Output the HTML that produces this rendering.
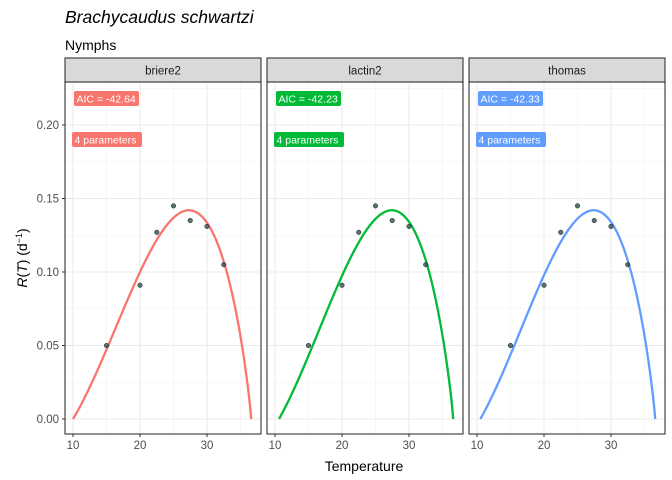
<!DOCTYPE html><html><head><meta charset="utf-8"><style>body{margin:0;background:#fff}svg{display:block}text{font-family:"Liberation Sans",sans-serif}</style></head><body>
<svg id="s" width="672" height="480" xmlns="http://www.w3.org/2000/svg">
<text x="65" y="23" font-size="17.5" font-style="italic" fill="#000">Brachycaudus schwartzi</text>
<text x="65" y="50" font-size="14" fill="#000">Nymphs</text>
<text x="364" y="471" font-size="14" text-anchor="middle" fill="#000">Temperature</text>
<text transform="translate(27,258) rotate(-90)" font-size="14" text-anchor="middle" fill="#000"><tspan font-style="italic">R</tspan>(<tspan font-style="italic">T</tspan>) (d<tspan font-size="9" dy="-5">−1</tspan><tspan dy="5">)</tspan></text>
<g id="g"></g>
</svg>
<script>
var g=document.getElementById('g'),h='';
var panels=[{x0:65,name:'briere2',c:'#F8766D',t0:10,aic:'-42.64'},{x0:267,name:'lactin2',c:'#00BA38',t0:10.6,aic:'-42.23'},{x0:469,name:'thomas',c:'#619CFF',t0:10.5,aic:'-42.33'}];
var W=196,pT=82,bot=434;
function Y(v){return 419-v*1470;}
var pts=[[15,0.05],[20,0.091],[22.5,0.127],[25,0.145],[27.5,0.135],[30,0.131],[32.5,0.105]];
panels.forEach(function(p,i){
 function X(t){return p.x0+8+(t-10)*6.7;}
 h+='<rect x="'+p.x0+'" y="'+pT+'" width="'+W+'" height="'+(bot-pT)+'" fill="#fff"/>';
 [0.025,0.075,0.125,0.175,0.225].forEach(function(v){h+='<line x1="'+p.x0+'" x2="'+(p.x0+W)+'" y1="'+Y(v)+'" y2="'+Y(v)+'" stroke="#f2f2f2" stroke-width="0.6"/>';});
 [15,25,35].forEach(function(v){h+='<line y1="'+pT+'" y2="'+bot+'" x1="'+X(v)+'" x2="'+X(v)+'" stroke="#f2f2f2" stroke-width="0.6"/>';});
 [0,0.05,0.1,0.15,0.2].forEach(function(v){h+='<line x1="'+p.x0+'" x2="'+(p.x0+W)+'" y1="'+Y(v)+'" y2="'+Y(v)+'" stroke="#ebebeb" stroke-width="1.1"/>';});
 [10,20,30].forEach(function(v){h+='<line y1="'+pT+'" y2="'+bot+'" x1="'+X(v)+'" x2="'+X(v)+'" stroke="#ebebeb" stroke-width="1.1"/>';
  h+='<line y1="'+bot+'" y2="'+(bot+3)+'" x1="'+X(v)+'" x2="'+X(v)+'" stroke="#333"/>';
  h+='<text x="'+X(v)+'" y="'+(bot+15)+'" font-size="11.5" fill="#4d4d4d" text-anchor="middle">'+v+'</text>';});
 var L=36.6,t0=p.t0;function f(t){return t*(t-t0)*Math.pow(Math.max(L-t,0),0.878);}
 var pk=0;for(var t=t0;t<=L;t+=0.01)pk=Math.max(pk,f(t));
 var d='';for(var k=0;k<=200;k++){var t=t0+(L-t0)*k/200;d+=(k?'L':'M')+X(t).toFixed(2)+','+Y(0.142*f(t)/pk).toFixed(2);}
 h+='<path d="'+d+'" fill="none" stroke="'+p.c+'" stroke-width="2.3"/>';
 pts.forEach(function(q){h+='<circle cx="'+X(q[0])+'" cy="'+Y(q[1])+'" r="2.3" fill="#2f4f4f" fill-opacity="0.8" stroke="#222" stroke-width="0.5"/>';});
 h+='<rect x="'+(p.x0+9)+'" y="91" width="65" height="15" rx="2" fill="'+p.c+'"/><text x="'+(p.x0+11.5)+'" y="102.5" font-size="10.5" fill="#fff">AIC = '+p.aic+'</text>';
 h+='<rect x="'+(p.x0+7)+'" y="132" width="70" height="15" rx="2" fill="'+p.c+'"/><text x="'+(p.x0+9.5)+'" y="143.5" font-size="10.5" fill="#fff">4 parameters</text>';
 h+='<rect x="'+p.x0+'" y="'+pT+'" width="'+W+'" height="'+(bot-pT)+'" fill="none" stroke="#333" stroke-width="1.1"/>';
 h+='<rect x="'+p.x0+'" y="58" width="'+W+'" height="24" fill="#d9d9d9" stroke="#333" stroke-width="1.1"/>';
 h+='<text x="'+(p.x0+W/2)+'" y="74.5" font-size="11.5" fill="#1a1a1a" text-anchor="middle">'+p.name+'</text>';
});
[0,0.05,0.1,0.15,0.2].forEach(function(v){h+='<line x1="62" x2="65" y1="'+Y(v)+'" y2="'+Y(v)+'" stroke="#333"/><text x="59" y="'+(Y(v)+4)+'" font-size="11.5" fill="#4d4d4d" text-anchor="end">'+v.toFixed(2)+'</text>';});
g.innerHTML=h;
</script>
</body></html>
